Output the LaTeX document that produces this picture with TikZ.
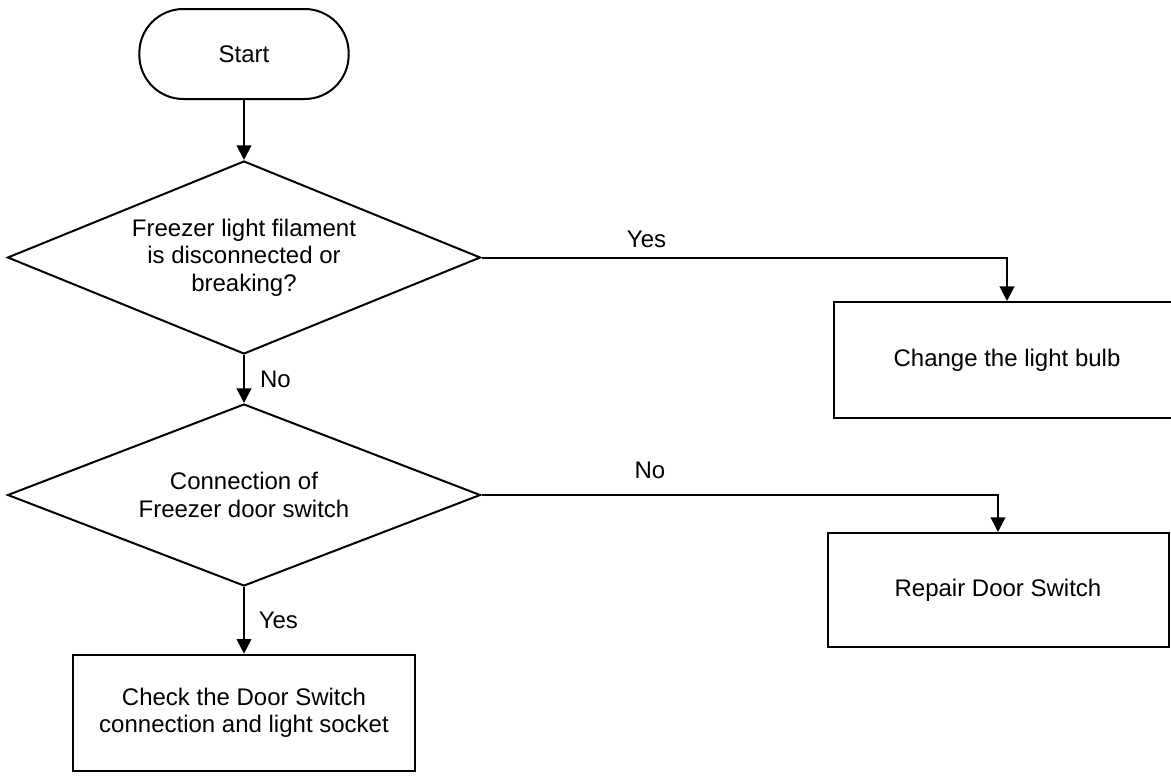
\documentclass[tikz,border=0pt]{standalone}
\usepackage{fontspec}
\setmainfont{Liberation Sans}
\usetikzlibrary{positioning, shapes.geometric, arrows.meta}

\begin{document}
\begin{tikzpicture}[
    x=0.75pt, y=-0.75pt,
    node distance=40pt,
    font=\fontsize{18}{20.5}\selectfont,
    % terminal, decision and process blocks
    term/.style={
        rectangle,
        draw=black,
        line width=1.5pt,
        rounded corners=33pt,
        minimum width=157pt,
        minimum height=67.5pt
    },
    decision/.style={
        diamond,
        draw=black,
        line width=1.5pt,
        inner sep=0pt,
        minimum width=354.75pt,
        align=center
    },
    proc/.style={
        rectangle,
        draw=black,
        line width=1.5pt,
        minimum width=256.5pt,
        minimum height=87pt,
        align=center
    },
    arr/.style={-{Triangle[length=11pt, width=11pt]}, line width=1.5pt, draw=black}
]
    \useasboundingbox (0,0) rectangle (1171,775);

    % --- MAIN COLUMN ---
    \node[term] (start) at (244,54) {Start};
    \node[decision, aspect=2.45, minimum height=144.75pt, below=45pt of start] (filament)
        {Freezer light filament\\is disconnected or\\breaking?};
    \node[decision, aspect=2.6, minimum height=136.5pt, below=36pt of filament] (doorsw)
        {Connection of\\Freezer door switch};
    \node[proc, below=50pt of doorsw] (check)
        {Check the Door Switch\\connection and light socket};

    % --- RIGHT BRANCHES ---
    \node[proc, minimum width=259.5pt] (bulb) at (1007,360) {Change the light bulb};
    \node[proc, minimum width=255.75pt, minimum height=85.5pt] (repair) at (998,590) {Repair Door Switch};

    % --- CONNECTIONS ---
    \draw[arr] (start) -- (filament);
    \draw[arr] (filament.east) -| node[pos=0.157, above=3pt] {Yes} (bulb.north);
    \draw[arr] (filament) -- node[right=8pt] {No} (doorsw);
    \draw[arr] (doorsw.east) -| node[pos=0.163, above=8pt] {No} (repair.north);
    \draw[arr] (doorsw) -- node[right=7pt] {Yes} (check);

\end{tikzpicture}
\end{document}
